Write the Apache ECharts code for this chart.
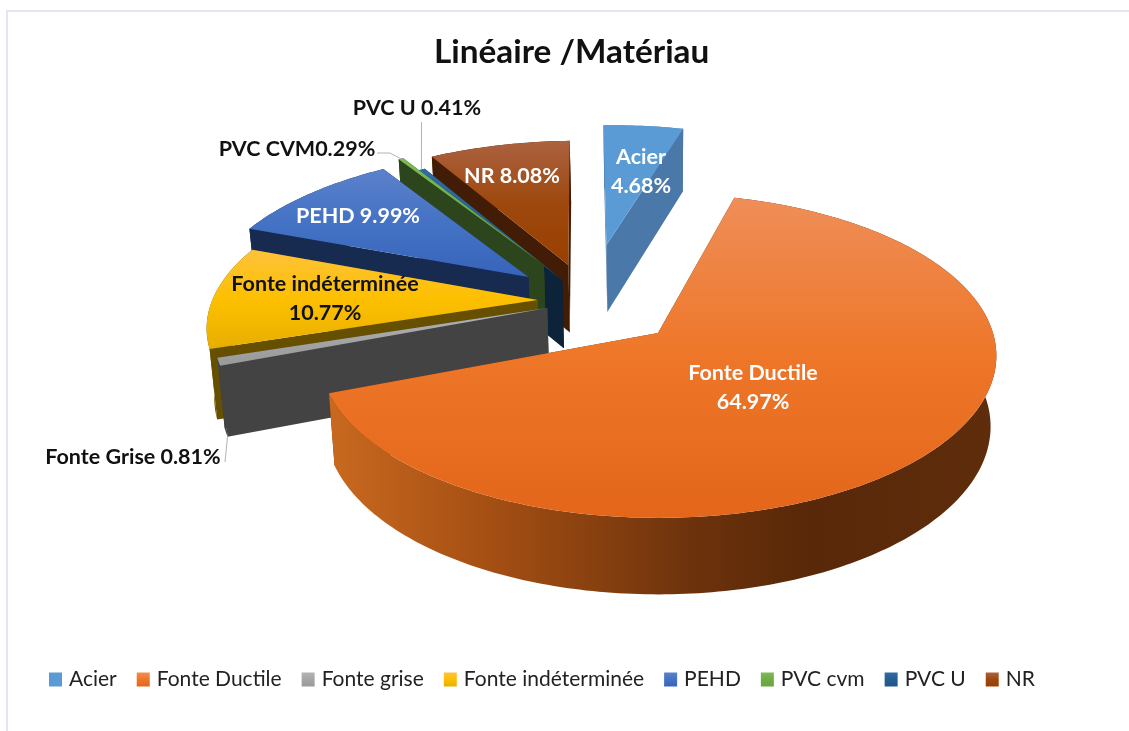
<!DOCTYPE html>
<html>
<head>
<meta charset="utf-8">
<title>Linéaire /Matériau</title>
<script src="https://cdn.jsdelivr.net/npm/echarts@6/dist/echarts.min.js"></script>
<style>
  html, body { margin: 0; padding: 0; background: #fff; }
  #main { width: 1129px; height: 731px; }
</style>
</head>
<body>
<div id="main"></div>
<script>
// data (percent of network length)
var categories = ['Acier', 'Fonte Ductile', 'Fonte grise', 'Fonte indéterminée', 'PEHD', 'PVC cvm', 'PVC U', 'NR']
var shares = [4.68, 64.97, 0.81, 10.77, 9.99, 0.29, 0.41, 8.08]
var labelNames = ['Acier', 'Fonte Ductile', 'Fonte Grise', 'Fonte indéterminée', 'PEHD', 'PVC CVM', 'PVC U', 'NR']

// where each exploded slice has its tip, in pie radii from the big slice's tip
var tipU = [-0.1635, 0.003, -0.3348, -0.3671, -0.4034, -0.359, -0.2963, -0.2815]
var tipV = [-0.5994, 0, -0.1606, -0.2137, -0.3703, -0.4549, -0.3494, -0.4549]
// back to front
var paintRank = [6, 7, 5, 4, 3, 2, 1, 0]

// colours: top face gradient stops, then wall
var topColors = [
  ['#5b9bd5', '#5b9bd5', '#5b9bd5'],
  ['#ef8e58', '#ee7628', '#e3661a'],
  ['#b4b4b4', '#a5a5a5', '#9a9a9a'],
  ['#fdc23c', '#fdc000', '#e8ae00'],
  ['#5b81cb', '#4472c4', '#3764ba'],
  ['#7dbb55', '#70ad47', '#6aa63f'],
  ['#2f6ca3', '#255e91', '#225685'],
  ['#ab6240', '#9e480e', '#993f00']
]
var wallColors = ['#4a78a8', null, '#434343', '#665000', '#172a50', '#2c451d', '#0c2339', '#421c05']
var mainWallStops = [
  [0, '#c9691f'], [0.25, '#a34e13'], [0.55, '#6c320c'], [0.72, '#582808'], [1, '#5f2d0c']
]

// label boxes: [x, y] centre of the text block, white or black
var labelPos = [[641, 172], [753, 388], [133, 457], [325, 299], [358, 216], [297, 149], [417, 108], [512, 176]]
var labelFill = ['#fff', '#fff', '#111', '#111', '#fff', '#111', '#111', '#fff']
var labelBreak = [true, true, false, true, false, false, false, false]
var labelJoin = [' ', ' ', ' ', ' ', ' ', '', ' ', ' ']
// leader lines: start near the label, optional elbow
var leaderStart = [null, null, [225, 462], null, null, [377, 153], [421.5, 122], null]
var leaderElbow = [null, null, null, null, null, [390, 153], null, null]

// pie projection
var CX = 657, CY = 333, RX = 335, RY = 159, PERSP = 0.14, CONVERGE = 0.983
var START_ANGLE = -91.85

var total = shares.reduce(function(a, b) { return a + b }, 0)
var rad = Math.PI / 180
var sliceStart = []
var sliceEnd = []
var acc = START_ANGLE
shares.forEach(function(v) {
  sliceStart.push(acc)
  acc += v / total * 360
  sliceEnd.push(acc)
})

function project(u, v, down) {
  var s = 1 / (1 - PERSP * v)
  var x = CX + RX * u * s
  var y = CY + RY * v * s
  if (down) {
    x = CX + (x - CX) * CONVERGE
    y += 30 + 40 * s
  }
  return [x, y]
}

function vGrad(stops) {
  return new echarts.graphic.LinearGradient(0, 0, 0, 1, [
    { offset: 0, color: stops[0] },
    { offset: 0.5, color: stops[1] },
    { offset: 1, color: stops[2] }
  ])
}

function renderSlice(i) {
  return function() {
    var a0 = sliceStart[i]
    var a1 = sliceEnd[i]
    var au = tipU[i]
    var av = tipV[i]

    var rim = []
    var rimLow = []
    var n = Math.max(2, Math.ceil(a1 - a0))
    for (var k = 0; k <= n; k++) {
      var t = (a0 + (a1 - a0) * k / n) * rad
      rim.push(project(au + Math.cos(t), av + Math.sin(t)))
      rimLow.push(project(au + Math.cos(t), av + Math.sin(t), true))
    }
    var apex = project(au, av)
    var apexLow = project(au, av, true)

    var wallFill = wallColors[i] || new echarts.graphic.LinearGradient(0, 0, 1, 0, mainWallStops.map(function(s) {
      return { offset: s[0], color: s[1] }
    }))
    var sideFill = wallColors[i] || '#6b3109'

    var children = [
      { type: 'polygon', z2: 1, shape: { points: [apex, rim[0], rimLow[0], apexLow] }, style: { fill: sideFill } },
      { type: 'polygon', z2: 1, shape: { points: [apex, rim[n], rimLow[n], apexLow] }, style: { fill: sideFill } },
      { type: 'polygon', z2: 2, shape: { points: rim.concat(rimLow.slice().reverse()) }, style: { fill: wallFill } },
      { type: 'polygon', z2: 3, shape: { points: [apex].concat(rim) }, style: { fill: vGrad(topColors[i]) } }
    ]

    if (leaderStart[i]) {
      var tip = i === 2 ? rimLow[0] : rim[Math.round(n / 2)]
      var pts = [leaderStart[i]]
      if (leaderElbow[i]) pts.push(leaderElbow[i])
      pts.push(tip)
      children.push({
        type: 'polyline', z2: 4,
        shape: { points: pts },
        style: { fill: null, stroke: '#a9b4c0', lineWidth: 1 }
      })
    }

    var pct = shares[i].toFixed(2) + '%'
    children.push({
      type: 'text', z2: 5,
      x: labelPos[i][0], y: labelPos[i][1],
      style: {
        text: labelNames[i] + (labelBreak[i] ? '\n' : labelJoin[i]) + pct,
        fill: labelFill[i],
        font: 'bold 21.5px Lato',
        lineHeight: 29,
        align: 'center',
        verticalAlign: 'middle'
      }
    })
    return { type: 'group', children: children }
  }
}

var seriesList = categories.map(function(name, i) {
  return {
    type: 'custom',
    name: name,
    coordinateSystem: 'none',
    z: 2 + paintRank[i],
    silent: true,
    itemStyle: { color: vGrad(topColors[i]) },
    data: [[shares[i]]],
    renderItem: renderSlice(i)
  }
})

var chart = echarts.init(document.getElementById('main'), null, { renderer: 'canvas' })
chart.setOption({
  animation: false,
  backgroundColor: '#fff',
  title: {
    text: 'Linéaire /Matériau',
    left: 429,
    top: 31,
    textStyle: { fontFamily: 'Lato', fontWeight: 'bold', fontSize: 33.3, color: '#111' }
  },
  legend: {
    data: categories,
    left: 49,
    top: 669,
    padding: 0,
    icon: 'rect',
    itemWidth: 13,
    itemHeight: 14,
    itemGap: 20,
    selectedMode: false,
    textStyle: { fontFamily: 'Lato', fontSize: 21, color: '#222', padding: [0, 0, 0, 2] }
  },
  graphic: [
    { type: 'line', silent: true, shape: { x1: 7, y1: 10, x2: 7, y2: 731 }, style: { stroke: '#e1e6f0', lineWidth: 2 } },
    { type: 'line', silent: true, shape: { x1: 6, y1: 11, x2: 1129, y2: 11 }, style: { stroke: '#e1e6f0', lineWidth: 2 } }
  ],
  series: seriesList
})
</script>
</body>
</html>
